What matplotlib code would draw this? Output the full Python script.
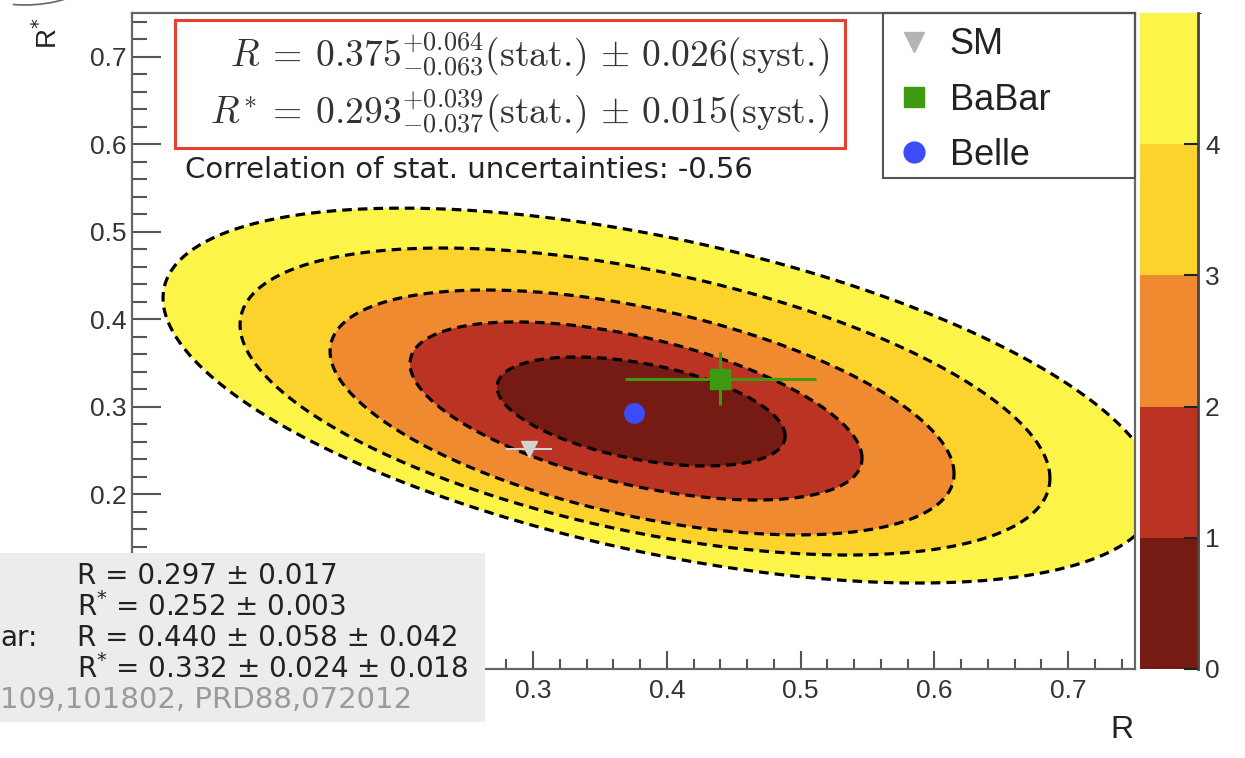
import numpy as np
import matplotlib.pyplot as plt
from matplotlib.patches import Rectangle, Arc
from matplotlib.lines import Line2D
from matplotlib.ticker import MultipleLocator, FuncFormatter
from matplotlib.colors import ListedColormap, BoundaryNorm
from matplotlib.cm import ScalarMappable

plt.rcParams['font.family'] = ['Liberation Sans', 'DejaVu Sans']
plt.rcParams['mathtext.fontset'] = 'cm'

# measurements
sm_R, sm_R_err = 0.297, 0.017
sm_Rs, sm_Rs_err = 0.252, 0.003
babar_R, babar_R_stat, babar_R_syst = 0.440, 0.058, 0.042
babar_Rs, babar_Rs_stat, babar_Rs_syst = 0.332, 0.024, 0.018
belle_R, belle_Rs = 0.375, 0.293

# delta chi2 contours (levels 1..5)
chi2_levels = [0, 1, 2, 3, 4, 5]
ell_cx = [0.3807, 0.3769, 0.3814, 0.3836, 0.3948]
ell_cy = [0.2944, 0.2950, 0.2933, 0.3058, 0.3126]
ell_ax = [0.1077, 0.1690, 0.2333, 0.3028, 0.3716]
ell_ay = [0.0623, 0.1018, 0.1400, 0.1755, 0.2143]
ell_rho = [-0.45, -0.53, -0.50, -0.50, -0.52]
level_colors = ['#761b13', '#bb3322', '#f08a30', '#fcd22c', '#fdf44a']

W, H = 1245, 758


def fx(x):
    return x / W


def fy(y):
    return 1 - y / H


fig = plt.figure(figsize=(W / 100, H / 100), dpi=100)
ax = fig.add_axes([fx(132), fy(669), 1003 / W, 656 / H])
cax = fig.add_axes([fx(1140), fy(669), 58 / W, 656 / H])

# filled contours, outermost first
t = np.linspace(0, 2 * np.pi, 400)
for k in range(len(ell_cx) - 1, -1, -1):
    ex = ell_cx[k] + ell_ax[k] * np.cos(t)
    ey = ell_cy[k] + ell_ay[k] * (ell_rho[k] * np.cos(t) + np.sqrt(1 - ell_rho[k] ** 2) * np.sin(t))
    ax.fill(ex, ey, facecolor=level_colors[k], edgecolor='none', zorder=1)
    ax.plot(ex, ey, color='black', lw=2.3, ls=(0, (3.0, 1.9)), zorder=2)

# points
ax.errorbar(sm_R, sm_Rs, xerr=sm_R_err, yerr=sm_Rs_err, fmt='v', color='#d2d2d2',
            ms=12, elinewidth=1.5, capsize=0, zorder=5)
ax.errorbar(babar_R, babar_Rs, xerr=np.hypot(babar_R_stat, babar_R_syst),
            yerr=np.hypot(babar_Rs_stat, babar_Rs_syst), fmt='s', color='#3f9a12',
            ms=15, elinewidth=2.2, capsize=0, zorder=5)
ax.plot(belle_R, belle_Rs, 'o', color='#3c4cfa', ms=14, zorder=6)

ax.set_xlim(0, 0.75)
ax.set_ylim(0, 0.75)
ax.xaxis.set_major_locator(MultipleLocator(0.1))
ax.xaxis.set_minor_locator(MultipleLocator(0.02))
ax.yaxis.set_major_locator(MultipleLocator(0.1))
ax.yaxis.set_minor_locator(MultipleLocator(0.02))
# low labels sit under the grey info box
ax.xaxis.set_major_formatter(FuncFormatter(lambda v, p: '' if v < 0.25 else f'{v:.1f}'))
ax.yaxis.set_major_formatter(FuncFormatter(lambda v, p: '' if v < 0.15 else f'{v:.1f}'))
ax.tick_params(which='both', direction='in', colors='#555', labelcolor='#333',
               labelsize=19, width=1.5)
ax.tick_params(axis='x', which='major', length=13, pad=7)
ax.tick_params(axis='x', which='minor', length=7)
ax.tick_params(axis='y', which='major', length=21, pad=4)
ax.tick_params(axis='y', which='minor', length=11)
for s in ax.spines.values():
    s.set_color('#666')
    s.set_linewidth(1.6)

# legend (frame drawn separately so its size matches)
handles = [Line2D([], [], marker='v', color='#b4b4b4', ls='none', ms=14),
           Line2D([], [], marker='s', color='#3f9a12', ls='none', ms=15),
           Line2D([], [], marker='o', color='#3c4cfa', ls='none', ms=15)]
leg = ax.legend(handles, ['SM', 'BaBar', 'Belle'], loc='upper left', mode='expand',
                bbox_to_anchor=(751 / 1003, 1 - 165 / 656, 252 / 1003, 165 / 656),
                borderaxespad=0, fontsize=26, labelspacing=0.56, handlelength=0.9,
                handletextpad=0.55, borderpad=0.4, frameon=False)
for t_ in leg.get_texts():
    t_.set_color('#222')
fig.add_artist(Rectangle((fx(883), fy(178)), 252 / W, 165 / H, transform=fig.transFigure,
                         facecolor='none', edgecolor='#555', lw=1.5, zorder=4))

# colour bar
mappable = ScalarMappable(norm=BoundaryNorm(chi2_levels, len(level_colors)),
                          cmap=ListedColormap(level_colors))
cbar = fig.colorbar(mappable, cax=cax, ticks=[0, 1, 2, 3, 4])
cbar.outline.set_visible(False)
cax.tick_params(direction='in', length=10, width=1.5, colors='#222',
                labelcolor='#333', labelsize=19, pad=5)
cax.plot([1, 1], [0, 1], transform=cax.transAxes, color='#444', lw=2, clip_on=False)

# result box
fig.add_artist(Rectangle((fx(175), fy(148)), 670 / W, 128 / H, transform=fig.transFigure,
                         facecolor='white', edgecolor='#e8402f', lw=2.2, zorder=4))
fig.text(fx(830), fy(55),
         r'$R\:=\:0.375^{+0.064}_{-0.063}(\mathrm{stat.}\!)\,\pm\,0.026(\mathrm{syst.}\!)$',
         ha='right', va='center', fontsize=27, color='#333', zorder=5)
fig.text(fx(830), fy(112),
         r'$R^{*}\:=\:0.293^{+0.039}_{-0.037}(\mathrm{stat.}\!)\,\pm\,0.015(\mathrm{syst.}\!)$',
         ha='right', va='center', fontsize=27, color='#333', zorder=5)
fig.text(fx(185), fy(170), 'Correlation of stat. uncertainties: -0.56', family='DejaVu Sans',
         ha='left', va='center', fontsize=21, color='#222', zorder=5)

# grey info box (cut at the left edge)
fig.add_artist(Rectangle((0, fy(722)), 485 / W, 169 / H, transform=fig.transFigure,
                         facecolor='#ececec', edgecolor='none', zorder=4))
info_lines = ['R = 0.297 ± 0.017', 'R$^{*}$ = 0.252 ± 0.003',
              'R = 0.440 ± 0.058 ± 0.042', 'R$^{*}$ = 0.332 ± 0.024 ± 0.018']
for i, line in enumerate(info_lines):
    fig.text(fx(77), fy(576 + 31 * i), line, family='DejaVu Sans', math_fontfamily='dejavusans',
             ha='left', va='center', fontsize=20, color='#222', zorder=5)
fig.text(fx(0), fy(638), 'ar:', family='DejaVu Sans', ha='left', va='center',
         fontsize=20, color='#222', zorder=5)
fig.text(fx(0), fy(700), '109,101802, PRD88,072012', family='DejaVu Sans', ha='left',
         va='center', fontsize=21, color='#9a9a9a', zorder=5)

# axis titles
fig.text(fx(48), fy(33), r'R$^{*}$', rotation=90, ha='center', va='center', fontsize=20,
         math_fontfamily='dejavusans', color='#222')
fig.text(fx(1122), fy(730), 'R', ha='center', va='center', fontsize=23, color='#222')

# corner of a rounded frame peeking in at the top left
fig.add_artist(Arc((0.25, 8.93), 2.8, 2.8, theta1=265, theta2=300,
                   transform=fig.dpi_scale_trans, color='#666', lw=1.2))

fig.savefig('out.png', dpi=100)
